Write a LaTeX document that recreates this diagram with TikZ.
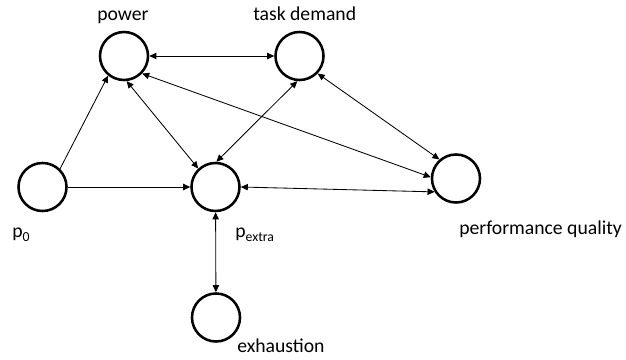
\documentclass[tikz,border=0pt]{standalone}
\usepackage{fontspec}
\setmainfont{Carlito}
\usetikzlibrary{arrows.meta}

\begin{document}
\begin{tikzpicture}[x=0.025cm,y=-0.025cm,
    var/.style={circle, draw, line width=1.8pt, minimum size=1.2cm, inner sep=0pt},
    lbl/.style={anchor=base west, inner sep=0pt, font=\fontsize{14}{16}\selectfont},
    cause/.style={line width=0.6pt, -{Triangle[length=5pt,width=4.5pt]}},
    link/.style={line width=0.6pt, {Triangle[length=5pt,width=4.5pt]}-{Triangle[length=5pt,width=4.5pt]}}]
    \useasboundingbox (0,0) rectangle (626,360);

    % variables
    \node[var] (power) at (124,56) {};
    \node[var] (task) at (299.5,56) {};
    \node[var] (p0) at (42.5,187) {};
    \node[var] (pextra) at (215.5,187) {};
    \node[var] (perf) at (456,178.5) {};
    \node[var] (exh) at (216,317.5) {};

    % labels
    \node[lbl] (powerlbl) at (97,21) {power};
    \node[lbl] (tasklbl) at (253,21) {task demand};
    \node[lbl] (p0lbl) at (12,238) {p\textsubscript{0}};
    \node[lbl] (pextralbl) at (235,238) {p\textsubscript{extra}};
    \node[lbl] (perflbl) at (459,235) {performance quality};
    \node[lbl] (exhlbl) at (237,353) {exhaustion};

    % arrows
    \draw[cause] (p0.46) -- (power.231);
    \draw[cause] (p0) -- (pextra);
    \draw[link] (power) -- (task);
    \draw[link] (power.-84) -- (pextra.133);
    \draw[link] (task.-95) -- (pextra.88);
    \draw[link] (task.-44) -- (perf.131);
    \draw[link] (power.-44) -- (perf.177);
    \draw[link] (pextra.0) -- (perf.212);
    \draw[link] (pextra) -- (exh);
\end{tikzpicture}
\end{document}
